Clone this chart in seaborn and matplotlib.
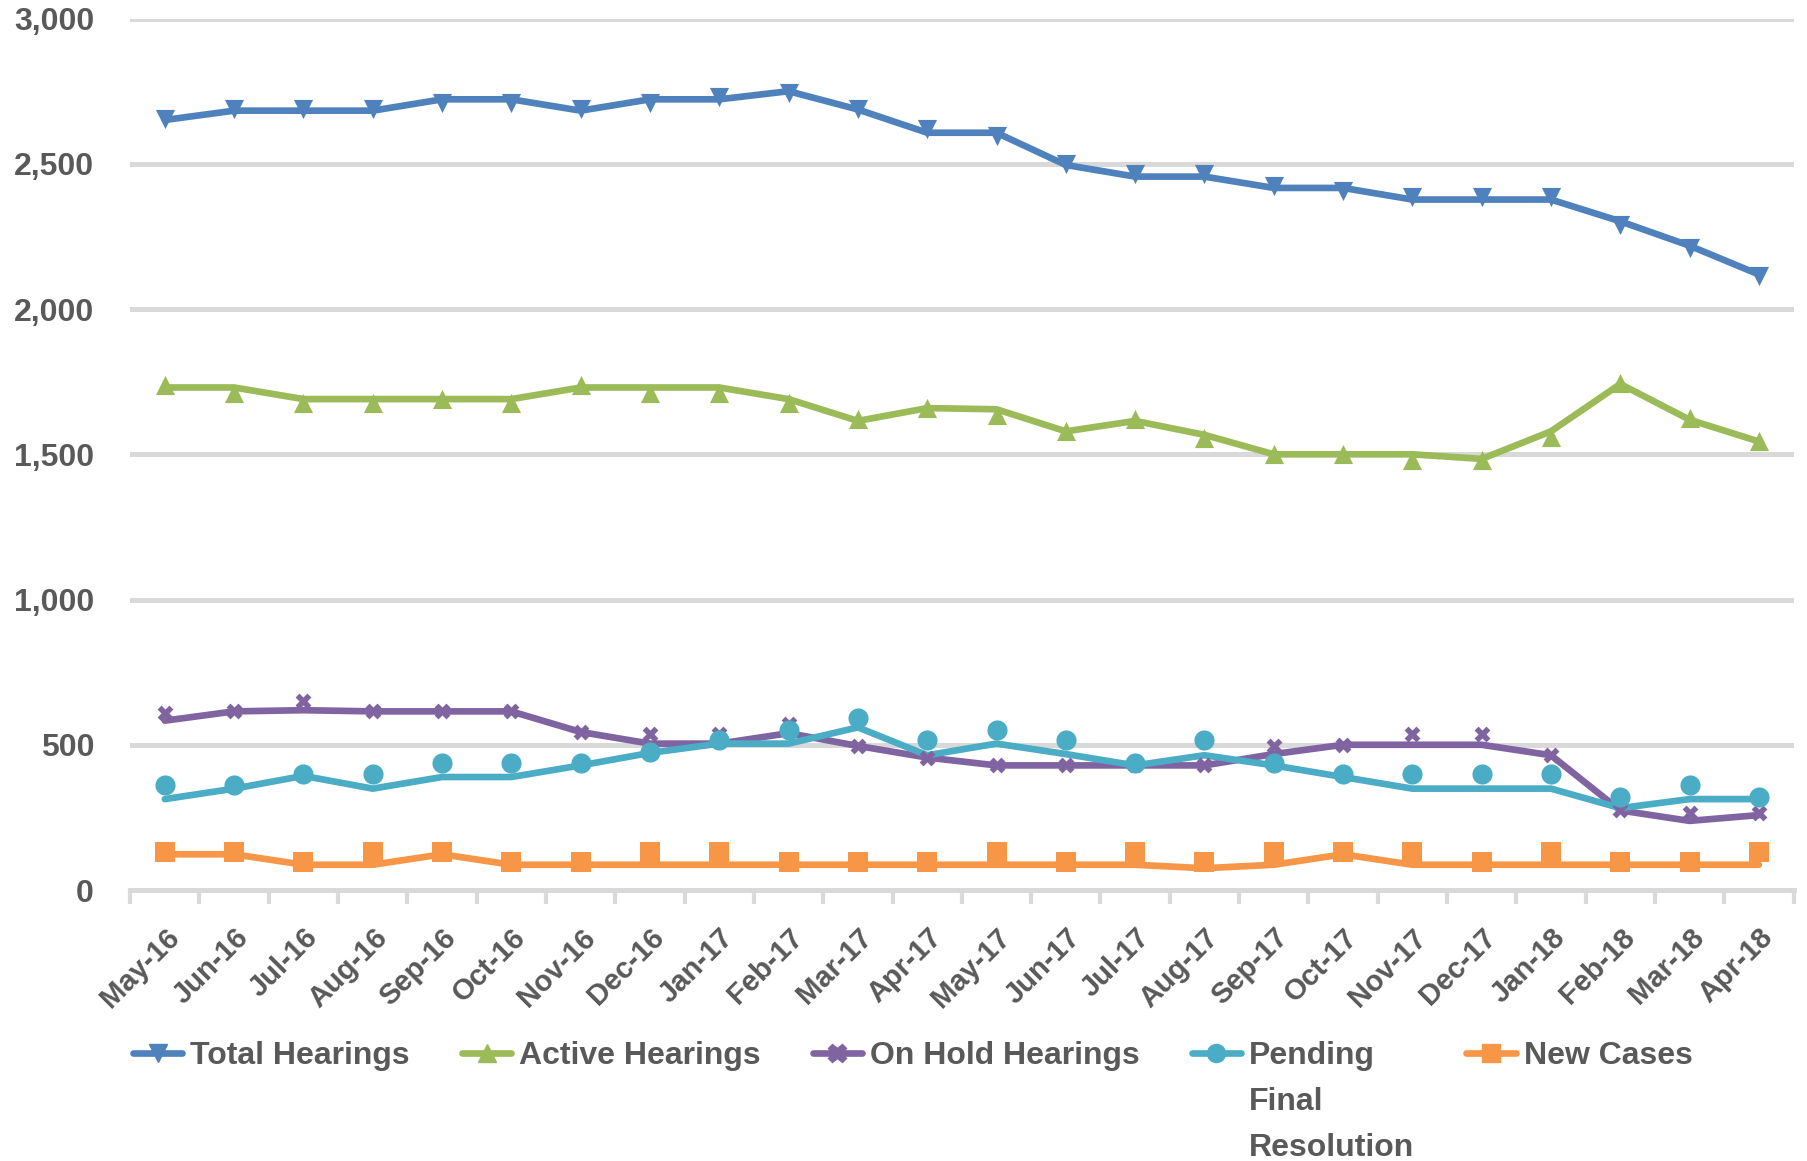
import matplotlib
matplotlib.use("Agg")
import matplotlib.pyplot as plt
from matplotlib.lines import Line2D
from matplotlib.ticker import FuncFormatter, FixedLocator
import numpy as np
import seaborn as sns

months = ["May-16", "Jun-16", "Jul-16", "Aug-16", "Sep-16", "Oct-16", "Nov-16", "Dec-16",
          "Jan-17", "Feb-17", "Mar-17", "Apr-17", "May-17", "Jun-17", "Jul-17", "Aug-17",
          "Sep-17", "Oct-17", "Nov-17", "Dec-17", "Jan-18", "Feb-18", "Mar-18", "Apr-18"]

# line values per series
total_hearings = [2651, 2683, 2683, 2683, 2722, 2722, 2683, 2722, 2722, 2750, 2687, 2607,
                  2607, 2496, 2456, 2456, 2417, 2417, 2377, 2377, 2377, 2302, 2218, 2119]
active_hearings = [1730, 1730, 1690, 1690, 1690, 1690, 1730, 1730, 1730, 1690, 1615, 1659,
                   1655, 1579, 1615, 1567, 1500, 1500, 1500, 1484, 1579, 1742, 1619, 1544]
on_hold_hearings = [583, 615, 619, 615, 615, 615, 544, 504, 504, 540, 496, 456,
                    429, 429, 429, 429, 468, 500, 500, 500, 464, 274, 238, 258]
pending_final = [313, 349, 393, 349, 389, 389, 429, 472, 504, 504, 560, 464,
                 504, 468, 429, 464, 429, 389, 349, 349, 349, 282, 313, 313]
new_cases = [123, 123, 87, 87, 123, 87, 87, 87, 87, 87, 87, 87,
             87, 87, 87, 75, 87, 123, 87, 87, 87, 87, 87, 87]

# marker values per series
total_marks = [2655, 2690, 2690, 2690, 2710, 2710, 2690, 2710, 2730, 2745, 2690, 2620,
               2595, 2500, 2465, 2465, 2425, 2405, 2385, 2385, 2385, 2290, 2210, 2115]
active_marks = [1740, 1710, 1675, 1675, 1690, 1675, 1740, 1710, 1710, 1675, 1620, 1660,
                1635, 1580, 1620, 1555, 1500, 1500, 1480, 1480, 1560, 1745, 1625, 1545]
on_hold_marks = [611, 615, 651, 615, 615, 615, 544, 536, 536, 571, 496, 456,
                 429, 429, 429, 429, 496, 500, 536, 536, 464, 274, 266, 266]
pending_marks = [361, 361, 401, 401, 437, 437, 437, 476, 516, 552, 591, 516,
                 552, 516, 437, 516, 437, 401, 401, 401, 401, 321, 361, 321]
new_cases_marks = [131, 131, 95, 131, 131, 95, 95, 131, 131, 95, 95, 95,
                   131, 95, 131, 95, 131, 131, 131, 95, 131, 95, 95, 131]

series_names = ["Total Hearings", "Active Hearings", "On Hold Hearings",
                "Pending", "New Cases"]
pending_extra = ["Final", "Resolution"]
colors = ["#4F81BD", "#9BBB59", "#8064A2", "#4BACC6", "#F79646"]
markers = ["v", "^", "X", "o", "s"]
msizes = [190, 190, 130, 210, 190]

sns.set_theme(style="white")
plt.rcParams["font.family"] = ["Liberation Sans", "DejaVu Sans"]

fig = plt.figure(figsize=(18.08, 11.61), dpi=100)
ax = fig.add_axes([0.072, 0.2334, 0.920, 0.7506])

x = np.arange(len(months))
line_sets = [total_hearings, active_hearings, on_hold_hearings, pending_final, new_cases]
mark_sets = [total_marks, active_marks, on_hold_marks, pending_marks, new_cases_marks]

for vals, mvals, col, mk, ms in zip(line_sets, mark_sets, colors, markers, msizes):
    sns.lineplot(x=x, y=vals, ax=ax, color=col, linewidth=4.8, zorder=3)
    sns.scatterplot(x=x, y=mvals, ax=ax, color=col, marker=mk, s=ms,
                    edgecolor=col, linewidth=0, zorder=4)

grid_col = "#D9D9D9"
text_col = "#595959"

ax.set_ylim(0, 3000)
ax.set_xlim(-0.5, len(months) - 0.5)
ax.yaxis.set_major_locator(FixedLocator([0, 500, 1000, 1500, 2000, 2500, 3000]))
ax.yaxis.set_major_formatter(FuncFormatter(lambda v, p: f"{int(v):,}"))
ax.grid(axis="y", color=grid_col, linewidth=3.6, zorder=0)
ax.grid(axis="x", visible=False)
for side in ["top", "right", "left"]:
    ax.spines[side].set_visible(False)
ax.spines["bottom"].set_color(grid_col)
ax.spines["bottom"].set_linewidth(3.6)
ax.spines["bottom"].set_zorder(1)

ax.set_xticks(x)
ax.set_xticklabels(months, rotation=45, ha="right", rotation_mode="anchor",
                   fontsize=21, color=text_col, fontweight="bold")
ax.tick_params(axis="x", which="major", length=0, pad=24)
ax.set_xticks(np.arange(-0.5, len(months)), minor=True)
ax.tick_params(axis="x", which="minor", length=10, width=3, color=grid_col, bottom=True)
ax.tick_params(axis="y", length=0, labelsize=23, labelcolor=text_col, pad=26)
for t in ax.get_yticklabels():
    t.set_fontweight("bold")

# legend laid out as 5 columns x 3 rows so the long label wraps beneath its entry
blank = Line2D([0], [0], color="none", linewidth=0)
handles, labels = [], []
for i, (name, c, m) in enumerate(zip(series_names, colors, markers)):
    handles.append(Line2D([0], [0], color=c, linewidth=4.8, marker=m, markersize=13,
                          markerfacecolor=c, markeredgecolor=c))
    labels.append(name)
    extra = pending_extra if i == 3 else ["", ""]
    for e in extra:
        handles.append(blank)
        labels.append(e)

leg = fig.legend(handles, labels, loc="upper left", bbox_to_anchor=(0.0735, 0.103),
                 ncol=5, frameon=False, handlelength=1.55, handletextpad=0.25,
                 columnspacing=1.62, labelspacing=0.5, borderpad=0, borderaxespad=0,
                 prop={"size": 23, "weight": "bold"}, labelcolor=text_col)

fig.savefig("out.png", dpi=100)
